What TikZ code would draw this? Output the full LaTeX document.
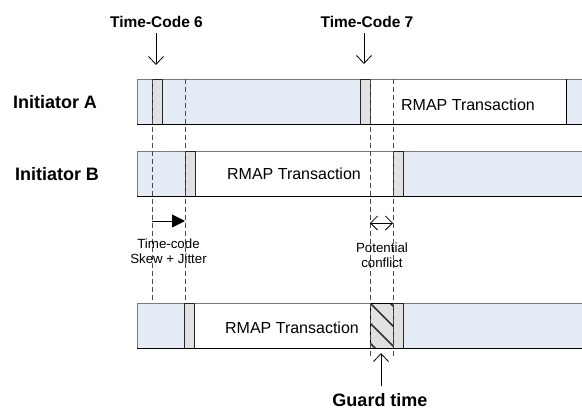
\documentclass[tikz,border=0pt]{standalone}
\usepackage{fontspec}
\setmainfont{Liberation Sans}
\usetikzlibrary{arrows.meta}

\definecolor{laneblue}{HTML}{E6ECF6}
\definecolor{tcgrey}{HTML}{E1E1E1}
\definecolor{edgegrey}{HTML}{7A7A7A}
\definecolor{dashgrey}{HTML}{4A4A4A}

\begin{document}
\begin{tikzpicture}[x=1pt,y=-1pt,
  seg/.style={draw=edgegrey, line width=0.9pt, inner sep=0pt, outer sep=0pt,
              anchor=north west, minimum height=45pt},
  lane/.style={seg, fill=laneblue, minimum width=460pt},
  tcbox/.style={seg, fill=tcgrey, draw=black!85, minimum width=10pt},
  rmapbox/.style={seg, fill=white},
  guardbox/.style={seg, fill=tcgrey, draw=black, minimum width=23pt},
  rmaptext/.style={font=\fontsize{16}{18}\selectfont, anchor=base, inner sep=0pt},
  rowlabel/.style={font=\fontsize{18}{20}\selectfont\bfseries, anchor=base, inner sep=0pt},
  tclabel/.style={font=\fontsize{15.5}{18}\selectfont\bfseries, anchor=base, inner sep=0pt},
  note/.style={font=\fontsize{13.3}{15}\selectfont, align=center, anchor=base, inner sep=0pt},
  shadowedge/.style={draw=black, line width=0.9pt},
  sync/.style={draw=dashgrey, line width=0.8pt, dash pattern=on 5pt off 3pt},
  openarrow/.style={draw=black, line width=0.8pt, -{Straight Barb[length=8pt,width=15pt]}},
  skewarrow/.style={draw=black, line width=0.8pt, -{Triangle[length=13pt,width=13pt]}},
  conflictarrow/.style={draw=black, line width=0.8pt,
     {Straight Barb[length=7pt,width=14pt]}-{Straight Barb[length=7pt,width=14pt]}}
]
\clip (0,0) rectangle (582,410);

% ---- Initiator A
\node[lane] (laneA) at (137,79) {};
\node[rmapbox, minimum width=196pt] (rmapA) at (370,79) {};
\node[rmaptext] (txtA) at (468,110) {RMAP Transaction};
\node[tcbox] (tcA6) at (152,79) {};
\node[tcbox] (tcA7) at (360,79) {};
\draw[shadowedge] (laneA.south west) -- (laneA.south east);
\draw[shadowedge] (rmapA.north east) -- (rmapA.south east);

% ---- Initiator B
\node[lane] (laneB) at (137,151) {};
\node[rmapbox, minimum width=198pt] (rmapB) at (195,151) {};
\node[rmaptext] (txtB) at (294,179) {RMAP Transaction};
\node[tcbox] (tcB6) at (185,151) {};
\node[tcbox] (tcB7) at (393,151) {};
\draw[shadowedge] (laneB.south west) -- (laneB.south east);

% ---- Guarded schedule
\node[lane] (laneC) at (137,303) {};
\node[rmapbox, minimum width=176pt] (rmapC) at (194,303) {};
\node[rmaptext] (txtC) at (292,333) {RMAP Transaction};
\node[tcbox] (tcC6) at (184,303) {};
\node[guardbox] (guard) at (370,303) {};
\begin{scope}
  \clip (guard.north west) rectangle (guard.south east);
  \foreach \k in {-40,-20,...,60}
    \draw[black!80, line width=1.6pt] (370,303+\k) -- (400,333+\k);
\end{scope}
\draw[draw=black, line width=0.9pt] (guard.north west) rectangle (guard.south east);
\node[tcbox] (tcC7) at (393,303) {};
\draw[shadowedge] (laneC.south west) -- (laneC.south east);

% ---- time-code reference lines
\coordinate (s1t) at (152,79);  \coordinate (s1b) at (152,300);
\coordinate (s2t) at (185,79);  \coordinate (s2b) at (185,303);
\coordinate (s3t) at (370,79);  \coordinate (s3b) at (370,358);
\coordinate (s4t) at (393,79);  \coordinate (s4b) at (393,358);
\foreach \s in {1,2,3,4} \draw[sync] (s\s t) -- (s\s b);

% ---- labels
\node[rowlabel] (initA) at (55,108) {Initiator A};
\node[rowlabel] (initB) at (57,180) {Initiator B};
\node[tclabel] (tc6) at (156.5,27) {Time-Code 6};
\node[tclabel] (tc7) at (367,27) {Time-Code 7};
\node[rowlabel] (guardlbl) at (380,406) {Guard time};
\node[note] (skew) at (168.5,263) {Time-code\\Skew + Jitter};
\node[note] (conflict) at (382,267) {Potential\\conflict};

% ---- arrows
\coordinate (tc6tail) at (156,33); \coordinate (tc6tip) at (156,65);
\coordinate (tc7tail) at (364,33); \coordinate (tc7tip) at (364,64);
\draw[openarrow] (tc6tail) -- (tc6tip);
\draw[openarrow] (tc7tail) -- (tc7tip);
\coordinate (skewL) at (152,221); \coordinate (skewR) at (185,221);
\draw[skewarrow] (skewL) -- (skewR);
\coordinate (confL) at (370,223); \coordinate (confR) at (393,223);
\draw[conflictarrow] (confL) -- (confR);
\coordinate (guardtail) at (381,386); \coordinate (guardtip) at (381,353);
\draw[openarrow] (guardtail) -- (guardtip);
\end{tikzpicture}
\end{document}
